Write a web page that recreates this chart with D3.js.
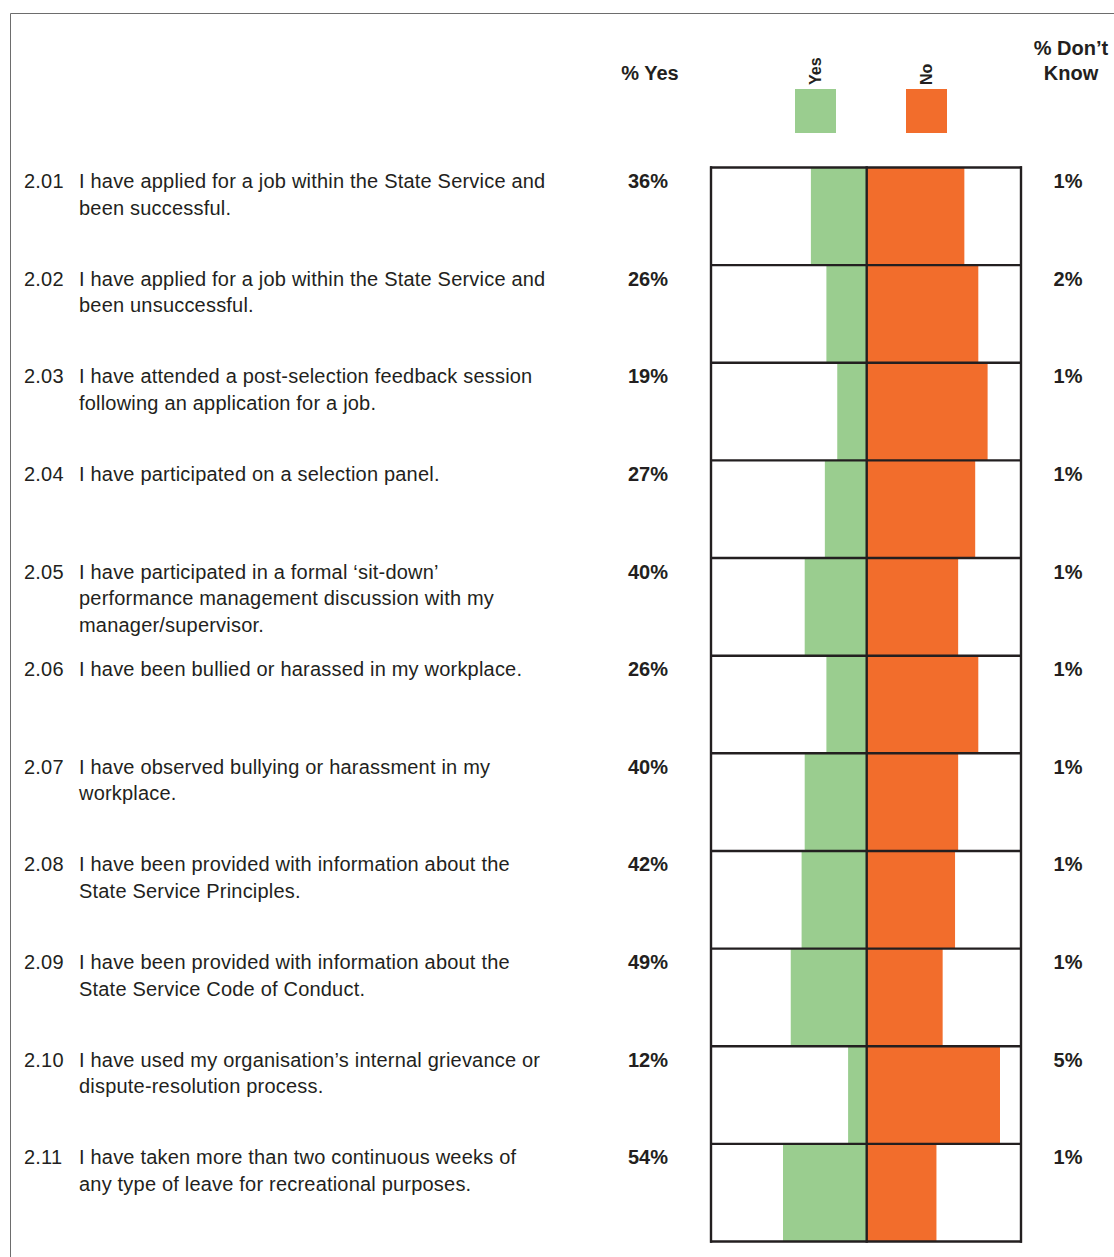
<!DOCTYPE html>
<html>
<head>
<meta charset="utf-8">
<script src="https://cdn.jsdelivr.net/npm/d3@7"></script>
<style>
  html, body { margin: 0; padding: 0; background: #fff; }
  svg { display: block; font-family: "Liberation Sans", Arial, sans-serif; }
</style>
</head>
<body>
<svg id="chart" width="1114" height="1257"></svg>
<script>
// Survey items: question number and wrapped statement text
const itemCodes = ["2.01","2.02","2.03","2.04","2.05","2.06","2.07","2.08","2.09","2.10","2.11"];
const itemLines = [
  ["I have applied for a job within the State Service and", "been successful."],
  ["I have applied for a job within the State Service and", "been unsuccessful."],
  ["I have attended a post-selection feedback session", "following an application for a job."],
  ["I have participated on a selection panel."],
  ["I have participated in a formal \u2018sit-down\u2019", "performance management discussion with my", "manager/supervisor."],
  ["I have been bullied or harassed in my workplace."],
  ["I have observed bullying or harassment in my", "workplace."],
  ["I have been provided with information about the", "State Service Principles."],
  ["I have been provided with information about the", "State Service Code of Conduct."],
  ["I have used my organisation\u2019s internal grievance or", "dispute-resolution process."],
  ["I have taken more than two continuous weeks of", "any type of leave for recreational purposes."]
];
// Response shares (%)
const pctYes      = [36, 26, 19, 27, 40, 26, 40, 42, 49, 12, 54];
const pctNo       = [63, 72, 78, 70, 59, 72, 59, 57, 49, 86, 45];
const pctDontKnow = [1, 2, 1, 1, 1, 1, 1, 1, 1, 5, 1];

const legendKeys = ["Yes", "No"];
const colors = { Yes: "#9acd8f", No: "#f26d2c" };
const ink = "#231f20";

const svg = d3.select("#chart");
const W = 1114, H = 1257;

// Outer frame (top and left rules)
svg.append("path")
  .attr("d", `M10.5,${H} V13.5 H${W}`)
  .attr("fill", "none").attr("stroke", "#6d6d6d").attr("stroke-width", 1);

// Scales
const panelLeft = 711, panelRight = 1021, center = 866.7;
const x = d3.scaleLinear().domain([-100, 100]).range([center - 155, center + 155]);
const y = d3.scaleBand().domain(d3.range(itemCodes.length)).range([167.5, 1241.5]).padding(0);

const rows = itemCodes.map((code, i) => ({
  i, code, lines: itemLines[i], yes: pctYes[i], no: pctNo[i], dk: pctDontKnow[i]
}));

// Bars
const bars = svg.append("g");
bars.selectAll("rect.yes").data(rows).join("rect")
  .attr("class", "yes")
  .attr("x", d => x(-d.yes)).attr("width", d => x(0) - x(-d.yes))
  .attr("y", d => y(d.i)).attr("height", y.bandwidth())
  .attr("fill", colors.Yes);
bars.selectAll("rect.no").data(rows).join("rect")
  .attr("class", "no")
  .attr("x", x(0)).attr("width", d => x(d.no) - x(0))
  .attr("y", d => y(d.i)).attr("height", y.bandwidth())
  .attr("fill", colors.No);

// Grid: row separators and vertical rules
const grid = svg.append("g").attr("stroke", ink).attr("stroke-width", 2.4);
const boundaries = d3.range(itemCodes.length + 1).map(k => y.range()[0] + k * y.step());
grid.selectAll("line.h").data(boundaries).join("line")
  .attr("class", "h")
  .attr("x1", panelLeft - 1).attr("x2", panelRight + 1)
  .attr("y1", d => d).attr("y2", d => d);
grid.selectAll("line.v").data([panelLeft, x(0), panelRight]).join("line")
  .attr("class", "v")
  .attr("x1", d => d).attr("x2", d => d)
  .attr("y1", boundaries[0] - 1.2).attr("y2", boundaries[boundaries.length - 1] + 1.2);

// Row labels
const firstBaseline = 20.5, lineGap = 26.5;
const labels = svg.append("g").attr("fill", ink).attr("font-size", 20);
const rowG = labels.selectAll("g").data(rows).join("g")
  .attr("transform", d => `translate(0,${y(d.i) + firstBaseline})`);
rowG.append("text").attr("x", 24).attr("letter-spacing", 0.2).text(d => d.code);
rowG.append("text").attr("x", 79).attr("letter-spacing", 0.2)
  .selectAll("tspan").data(d => d.lines).join("tspan")
  .attr("x", 79).attr("dy", (d, k) => k === 0 ? 0 : lineGap)
  .text(d => d);
rowG.append("text").attr("x", 648).attr("text-anchor", "middle")
  .attr("font-weight", "bold").text(d => d.yes + "%");
rowG.append("text").attr("x", 1068).attr("text-anchor", "middle")
  .attr("font-weight", "bold").text(d => d.dk + "%");

// Column headers
const head = svg.append("g").attr("fill", ink).attr("font-size", 20).attr("font-weight", "bold")
  .attr("text-anchor", "middle");
head.append("text").attr("x", 650).attr("y", 80).text("% Yes");
head.append("text").attr("x", 1071).attr("y", 55).text("% Don\u2019t");
head.append("text").attr("x", 1071).attr("y", 80).text("Know");

// Legend swatches with rotated keys
const legendX = { Yes: 815.5, No: 926.5 };
const leg = svg.append("g");
leg.selectAll("rect").data(legendKeys).join("rect")
  .attr("x", d => legendX[d] - 20.5).attr("y", 89)
  .attr("width", 41).attr("height", 44)
  .attr("fill", d => colors[d]);
leg.selectAll("text").data(legendKeys).join("text")
  .attr("transform", d => `translate(${legendX[d] + 5.5},85) rotate(-90)`)
  .attr("font-size", 16).attr("font-weight", "bold").attr("fill", ink)
  .text(d => d);
</script>
</body>
</html>
